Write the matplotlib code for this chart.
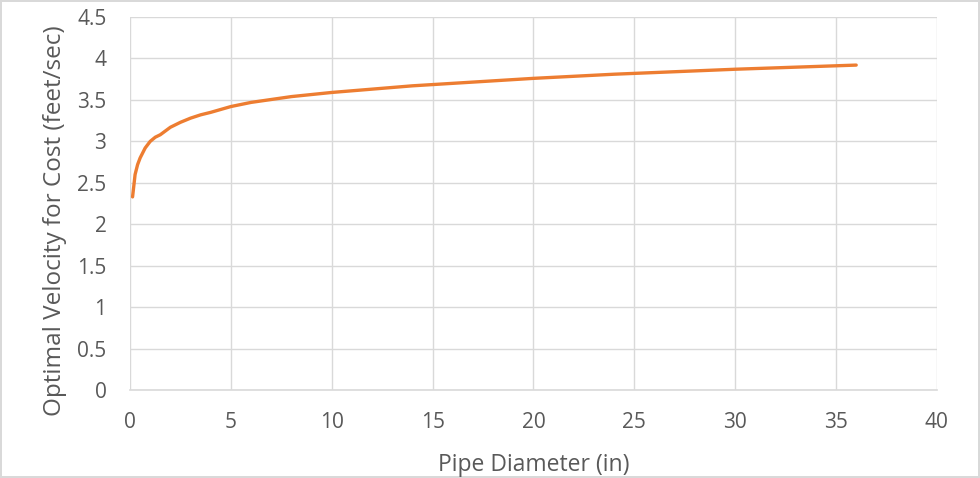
import matplotlib.pyplot as plt
from matplotlib.ticker import MultipleLocator, FuncFormatter

# --- datos ---
diametro = [0.125, 0.25, 0.375, 0.5, 0.75, 1, 1.25, 1.5, 2, 2.5, 3, 3.5, 4, 5, 6,
            8, 10, 12, 14, 16, 18, 20, 24, 30, 36]
velocidad = [2.33, 2.60, 2.72, 2.80, 2.92, 3.00, 3.05, 3.08, 3.17, 3.23, 3.28, 3.32,
             3.35, 3.42, 3.47, 3.54, 3.59, 3.63, 3.67, 3.70, 3.73, 3.76, 3.81, 3.87, 3.92]

plt.rcParams['font.family'] = ['Open Sans', 'DejaVu Sans']
gris_texto = '#595959'
gris_rejilla = '#d9d9d9'

fig = plt.figure(figsize=(9.8, 4.78), dpi=100)
fig.patch.set_edgecolor(gris_rejilla)
fig.patch.set_linewidth(1.5)
ax = fig.add_axes([0.1327, 0.184, 0.8233, 0.7804])

ax.plot(diametro, velocidad, color='#ed7d31', linewidth=2.4, solid_capstyle='round')

ax.set_xlim(0, 40)
ax.set_ylim(0, 4.5)
ax.xaxis.set_major_locator(MultipleLocator(5))
ax.yaxis.set_major_locator(MultipleLocator(0.5))
ax.yaxis.set_major_formatter(FuncFormatter(lambda v, p: f'{v:g}'))

ax.grid(True, color=gris_rejilla, linewidth=1)
ax.set_axisbelow(True)
for lado in ['top', 'right', 'left']:
    ax.spines[lado].set_visible(False)
ax.spines['bottom'].set_color(gris_rejilla)
ax.spines['bottom'].set_linewidth(1.2)
ax.tick_params(length=0, labelsize=15, labelcolor=gris_texto)
ax.tick_params(axis='x', pad=16)
ax.tick_params(axis='y', pad=17)

ax.set_xlabel('Pipe Diameter (in)', fontsize=16.5, color=gris_texto, labelpad=14)
ax.set_ylabel('Optimal Velocity for Cost (feet/sec)', fontsize=17.5, color=gris_texto)
# en el original el titulo del eje Y esta algo mas abajo que el centro
ax.yaxis.set_label_coords(-0.078, 0.453)

fig.savefig('out.png', dpi=100)
